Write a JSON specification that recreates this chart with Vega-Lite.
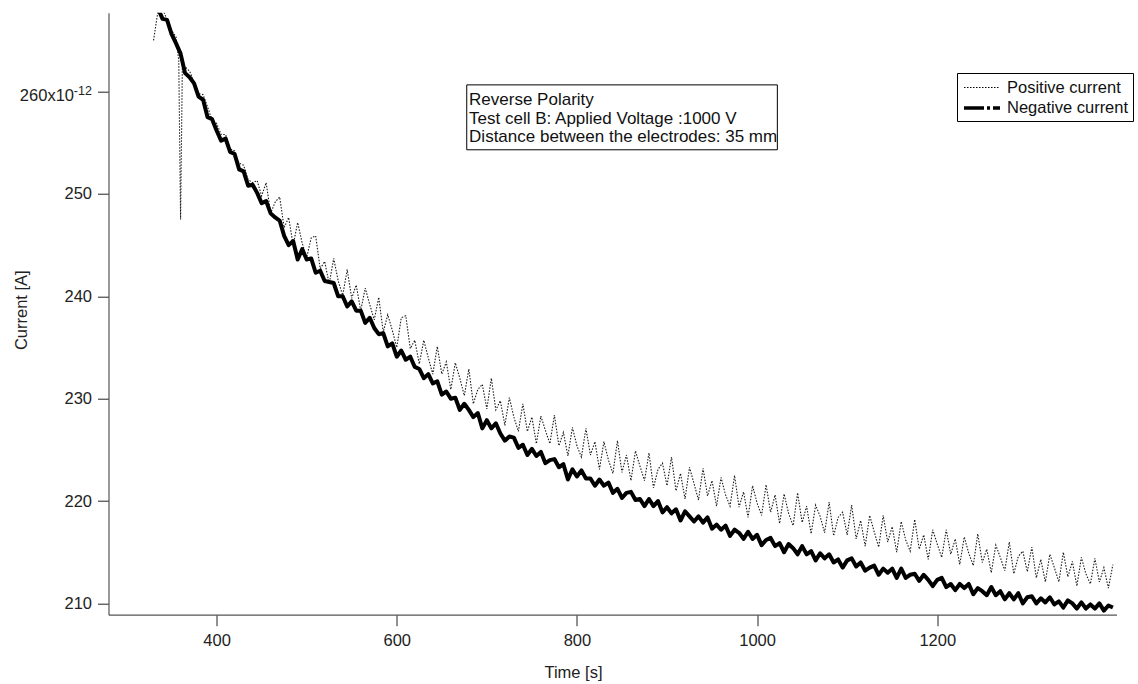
{
"$schema":"https://vega.github.io/schema/vega-lite/v6.json",
"width":1008,"height":602,
"autosize":{"type":"none"},
"padding":{"left":108.5,"top":12.7,"right":21.5,"bottom":69.3},
"background":"white",
"config":{"view":{"stroke":null},"font":"Liberation Sans"},
"datasets":{
"pos":[
{"t":330,"v":265.0},{"t":335,"v":267.9},{"t":340,"v":268.1},{"t":345,"v":267.0},{"t":350,"v":266.0},{"t":355,"v":265.3},{"t":358,"v":263.0},{"t":360,"v":247.5},{"t":362,"v":262.6},{"t":365,"v":262.4},
{"t":370,"v":262.0},{"t":375,"v":260.9},{"t":380,"v":259.8},{"t":385,"v":259.7},{"t":390,"v":258.5},{"t":395,"v":257.2},{"t":400,"v":256.9},{"t":405,"v":255.8},{"t":410,"v":255.8},{"t":415,"v":254.4},
{"t":420,"v":254.2},{"t":425,"v":253.0},{"t":430,"v":252.8},{"t":435,"v":251.4},{"t":440,"v":251.1},{"t":445,"v":251.3},{"t":450,"v":249.8},{"t":455,"v":251.1},{"t":460,"v":248.1},{"t":465,"v":249.2},
{"t":470,"v":249.7},{"t":475,"v":246.7},{"t":480,"v":247.7},{"t":485,"v":245.0},{"t":490,"v":247.2},{"t":495,"v":245.2},{"t":500,"v":243.8},{"t":505,"v":245.7},{"t":510,"v":245.9},{"t":515,"v":242.7},
{"t":520,"v":243.4},{"t":525,"v":241.2},{"t":530,"v":243.7},{"t":535,"v":241.5},{"t":540,"v":240.1},{"t":545,"v":242.6},{"t":550,"v":239.8},{"t":555,"v":241.1},{"t":560,"v":238.6},{"t":565,"v":240.8},
{"t":570,"v":239.2},{"t":575,"v":237.7},{"t":580,"v":239.9},{"t":585,"v":236.5},{"t":590,"v":238.2},{"t":595,"v":236.7},{"t":600,"v":235.0},{"t":605,"v":237.9},{"t":610,"v":238.1},{"t":615,"v":234.9},
{"t":620,"v":235.7},{"t":625,"v":233.4},{"t":630,"v":235.7},{"t":635,"v":234.0},{"t":640,"v":232.4},{"t":645,"v":235.1},{"t":650,"v":232.4},{"t":655,"v":233.6},{"t":660,"v":230.9},{"t":665,"v":233.5},
{"t":670,"v":232.0},{"t":675,"v":230.3},{"t":680,"v":232.9},{"t":685,"v":229.5},{"t":690,"v":230.9},{"t":695,"v":231.4},{"t":700,"v":229.0},{"t":705,"v":232.0},{"t":710,"v":228.9},{"t":715,"v":229.8},
{"t":720,"v":227.4},{"t":725,"v":230.1},{"t":730,"v":228.2},{"t":735,"v":226.8},{"t":740,"v":229.5},{"t":745,"v":226.8},{"t":750,"v":228.2},{"t":755,"v":225.6},{"t":760,"v":228.3},{"t":765,"v":226.9},
{"t":770,"v":225.6},{"t":775,"v":228.4},{"t":780,"v":225.4},{"t":785,"v":226.7},{"t":790,"v":224.4},{"t":795,"v":227.2},{"t":800,"v":225.4},{"t":805,"v":224.3},{"t":810,"v":227.1},{"t":815,"v":224.5},
{"t":820,"v":225.8},{"t":825,"v":223.1},{"t":830,"v":225.8},{"t":835,"v":224.0},{"t":840,"v":222.7},{"t":845,"v":225.9},{"t":850,"v":222.8},{"t":855,"v":224.5},{"t":860,"v":222.0},{"t":865,"v":224.9},
{"t":870,"v":223.4},{"t":875,"v":222.0},{"t":880,"v":224.7},{"t":885,"v":221.3},{"t":890,"v":223.1},{"t":895,"v":223.7},{"t":900,"v":221.5},{"t":905,"v":224.3},{"t":910,"v":221.0},{"t":915,"v":222.7},
{"t":920,"v":220.2},{"t":925,"v":223.3},{"t":930,"v":221.7},{"t":935,"v":220.1},{"t":940,"v":223.2},{"t":945,"v":220.5},{"t":950,"v":222.0},{"t":955,"v":219.5},{"t":960,"v":222.3},{"t":965,"v":220.6},
{"t":970,"v":219.5},{"t":975,"v":222.5},{"t":980,"v":219.4},{"t":985,"v":220.9},{"t":990,"v":218.4},{"t":995,"v":221.5},{"t":1000,"v":219.8},{"t":1005,"v":218.6},{"t":1010,"v":221.6},{"t":1015,"v":218.9},
{"t":1020,"v":220.6},{"t":1025,"v":217.8},{"t":1030,"v":220.7},{"t":1035,"v":218.8},{"t":1040,"v":217.6},{"t":1045,"v":220.8},{"t":1050,"v":217.9},{"t":1055,"v":219.5},{"t":1060,"v":216.8},{"t":1065,"v":219.6},
{"t":1070,"v":218.5},{"t":1075,"v":216.9},{"t":1080,"v":219.9},{"t":1085,"v":216.6},{"t":1090,"v":218.4},{"t":1095,"v":218.9},{"t":1100,"v":216.7},{"t":1105,"v":219.6},{"t":1110,"v":216.3},{"t":1115,"v":218.1},
{"t":1120,"v":215.6},{"t":1125,"v":218.6},{"t":1130,"v":217.0},{"t":1135,"v":215.5},{"t":1140,"v":218.6},{"t":1145,"v":216.0},{"t":1150,"v":217.5},{"t":1155,"v":215.0},{"t":1160,"v":218.0},{"t":1165,"v":216.2},
{"t":1170,"v":215.1},{"t":1175,"v":218.2},{"t":1180,"v":215.3},{"t":1185,"v":216.7},{"t":1190,"v":214.3},{"t":1195,"v":217.2},{"t":1200,"v":215.8},{"t":1205,"v":214.5},{"t":1210,"v":217.2},{"t":1215,"v":214.8},
{"t":1220,"v":216.3},{"t":1225,"v":213.8},{"t":1230,"v":216.5},{"t":1235,"v":214.9},{"t":1240,"v":213.7},{"t":1245,"v":216.8},{"t":1250,"v":214.0},{"t":1255,"v":215.3},{"t":1260,"v":213.0},{"t":1265,"v":215.7},
{"t":1270,"v":214.5},{"t":1275,"v":213.2},{"t":1280,"v":216.0},{"t":1285,"v":212.9},{"t":1290,"v":214.6},{"t":1295,"v":215.1},{"t":1300,"v":213.1},{"t":1305,"v":215.5},{"t":1310,"v":212.5},{"t":1315,"v":214.3},
{"t":1320,"v":212.1},{"t":1325,"v":214.8},{"t":1330,"v":213.5},{"t":1335,"v":212.1},{"t":1340,"v":215.0},{"t":1345,"v":212.6},{"t":1350,"v":214.1},{"t":1355,"v":211.7},{"t":1360,"v":214.5},{"t":1365,"v":212.9},
{"t":1370,"v":211.9},{"t":1375,"v":214.4},{"t":1380,"v":212.1},{"t":1385,"v":213.5},{"t":1390,"v":211.5},{"t":1395,"v":213.8}
],
"neg":[
{"t":330,"v":268.3},{"t":335,"v":268.1},{"t":340,"v":267.1},{"t":345,"v":267.0},{"t":350,"v":265.6},{"t":355,"v":264.7},{"t":360,"v":263.7},{"t":365,"v":261.8},{"t":370,"v":261.4},{"t":375,"v":260.8},
{"t":380,"v":259.5},{"t":385,"v":259.2},{"t":390,"v":257.5},{"t":395,"v":257.3},{"t":400,"v":256.2},{"t":405,"v":255.2},{"t":410,"v":255.4},{"t":415,"v":254.1},{"t":420,"v":253.9},{"t":425,"v":252.4},
{"t":430,"v":252.2},{"t":435,"v":250.8},{"t":440,"v":250.9},{"t":445,"v":250.1},{"t":450,"v":249.1},{"t":455,"v":249.3},{"t":460,"v":248.1},{"t":465,"v":247.7},{"t":470,"v":247.4},{"t":475,"v":245.9},
{"t":480,"v":245.0},{"t":485,"v":245.4},{"t":490,"v":243.6},{"t":495,"v":244.6},{"t":500,"v":243.6},{"t":505,"v":243.7},{"t":510,"v":242.3},{"t":515,"v":242.5},{"t":520,"v":241.5},{"t":525,"v":241.4},
{"t":530,"v":241.3},{"t":535,"v":240.0},{"t":540,"v":240.0},{"t":545,"v":239.0},{"t":550,"v":239.5},{"t":555,"v":238.6},{"t":560,"v":238.6},{"t":565,"v":237.4},{"t":570,"v":237.9},{"t":575,"v":236.9},
{"t":580,"v":236.3},{"t":585,"v":236.4},{"t":590,"v":235.1},{"t":595,"v":235.4},{"t":600,"v":234.1},{"t":605,"v":234.7},{"t":610,"v":233.8},{"t":615,"v":234.1},{"t":620,"v":233.1},{"t":625,"v":232.9},
{"t":630,"v":232.0},{"t":635,"v":232.4},{"t":640,"v":231.5},{"t":645,"v":231.7},{"t":650,"v":230.4},{"t":655,"v":230.7},{"t":660,"v":230.0},{"t":665,"v":230.1},{"t":670,"v":228.9},{"t":675,"v":229.5},
{"t":680,"v":228.9},{"t":685,"v":228.2},{"t":690,"v":228.6},{"t":695,"v":227.1},{"t":700,"v":227.9},{"t":705,"v":227.1},{"t":710,"v":227.6},{"t":715,"v":226.6},{"t":720,"v":225.9},{"t":725,"v":226.3},
{"t":730,"v":226.2},{"t":735,"v":225.2},{"t":740,"v":225.5},{"t":745,"v":224.5},{"t":750,"v":225.1},{"t":755,"v":224.4},{"t":760,"v":224.8},{"t":765,"v":223.7},{"t":770,"v":224.0},{"t":775,"v":224.1},
{"t":780,"v":223.3},{"t":785,"v":223.6},{"t":790,"v":222.1},{"t":795,"v":223.1},{"t":800,"v":222.4},{"t":805,"v":223.0},{"t":810,"v":222.2},{"t":815,"v":222.2},{"t":820,"v":221.5},{"t":825,"v":222.1},
{"t":830,"v":221.5},{"t":835,"v":221.8},{"t":840,"v":220.8},{"t":845,"v":221.2},{"t":850,"v":220.3},{"t":855,"v":220.8},{"t":860,"v":220.9},{"t":865,"v":220.1},{"t":870,"v":220.2},{"t":875,"v":219.5},
{"t":880,"v":220.2},{"t":885,"v":219.5},{"t":890,"v":220.0},{"t":895,"v":218.9},{"t":900,"v":219.4},{"t":905,"v":218.8},{"t":910,"v":219.2},{"t":915,"v":218.1},{"t":920,"v":219.0},{"t":925,"v":218.5},
{"t":930,"v":218.0},{"t":935,"v":218.5},{"t":940,"v":217.9},{"t":945,"v":218.4},{"t":950,"v":217.3},{"t":955,"v":217.7},{"t":960,"v":217.2},{"t":965,"v":217.6},{"t":970,"v":216.6},{"t":975,"v":217.2},
{"t":980,"v":216.9},{"t":985,"v":216.3},{"t":990,"v":217.0},{"t":995,"v":216.3},{"t":1000,"v":216.7},{"t":1005,"v":215.7},{"t":1010,"v":216.2},{"t":1015,"v":216.4},{"t":1020,"v":215.6},{"t":1025,"v":215.9},
{"t":1030,"v":215.0},{"t":1035,"v":215.8},{"t":1040,"v":215.4},{"t":1045,"v":214.8},{"t":1050,"v":215.6},{"t":1055,"v":214.8},{"t":1060,"v":215.1},{"t":1065,"v":214.2},{"t":1070,"v":214.9},{"t":1075,"v":214.4},
{"t":1080,"v":214.8},{"t":1085,"v":214.0},{"t":1090,"v":214.3},{"t":1095,"v":213.5},{"t":1100,"v":214.2},{"t":1105,"v":214.4},{"t":1110,"v":213.6},{"t":1115,"v":214.0},{"t":1120,"v":213.2},{"t":1125,"v":213.5},
{"t":1130,"v":213.7},{"t":1135,"v":212.8},{"t":1140,"v":213.4},{"t":1145,"v":213.0},{"t":1150,"v":213.4},{"t":1155,"v":212.5},{"t":1160,"v":213.4},{"t":1165,"v":212.5},{"t":1170,"v":212.8},{"t":1175,"v":212.9},
{"t":1180,"v":212.2},{"t":1185,"v":212.8},{"t":1190,"v":212.3},{"t":1195,"v":211.7},{"t":1200,"v":212.3},{"t":1205,"v":212.5},{"t":1210,"v":211.6},{"t":1215,"v":211.9},{"t":1220,"v":211.3},{"t":1225,"v":211.9},
{"t":1230,"v":211.5},{"t":1235,"v":211.9},{"t":1240,"v":210.9},{"t":1245,"v":211.5},{"t":1250,"v":211.2},{"t":1255,"v":210.8},{"t":1260,"v":211.6},{"t":1265,"v":210.8},{"t":1270,"v":211.2},{"t":1275,"v":210.4},
{"t":1280,"v":211.0},{"t":1285,"v":210.4},{"t":1290,"v":211.0},{"t":1295,"v":210.0},{"t":1300,"v":210.6},{"t":1305,"v":210.7},{"t":1310,"v":210.0},{"t":1315,"v":210.5},{"t":1320,"v":210.1},{"t":1325,"v":210.6},
{"t":1330,"v":209.9},{"t":1335,"v":210.2},{"t":1340,"v":209.6},{"t":1345,"v":210.3},{"t":1350,"v":210.0},{"t":1355,"v":209.5},{"t":1360,"v":210.1},{"t":1365,"v":209.5},{"t":1370,"v":209.9},{"t":1375,"v":209.5},
{"t":1380,"v":210.0},{"t":1385,"v":209.3},{"t":1390,"v":209.8},{"t":1395,"v":209.6}
]
},
"layer":[
{"data":{"name":"pos"},
 "mark":{"type":"line","clip":true,"strokeWidth":1.1,"strokeDash":[1.5,1.5],"color":"#1a1a1a"},
 "encoding":{
  "x":{"field":"t","type":"quantitative","title":"Time [s]","scale":{"domain":[280,1399],"nice":false,"zero":false},
   "axis":{"values":[400,600,800,1000,1200],"format":"d","grid":false,"tickSize":11,"tickColor":"#222","domainColor":"#555","domainWidth":1.2,"labelFontSize":16.5,"labelColor":"#222","labelPadding":7,"labelFlush":false,"titleFontSize":16.5,"titleFontWeight":"normal","titleColor":"#222","titleX":464.5,"titleY":58,"titleBaseline":"middle"}},
  "y":{"field":"v","type":"quantitative","title":"Current [A]","scale":{"domain":[208.9,267.7],"nice":false,"zero":false},
   "axis":{"values":[210,220,230,240,250,260],"labelExpr":"datum.value == 260 ? '260x10' : datum.label","grid":false,"tickSize":11,"tickColor":"#222","domainColor":"#555","domainWidth":1.2,"labelFontSize":16.5,"labelColor":"#222","labelPadding":{"condition":{"test":"datum.value == 260","value":24},"value":6},"labelOffset":{"condition":{"test":"datum.value == 260","value":4},"value":0},"labelFlush":false,"titleFontSize":16.5,"titleFontWeight":"normal","titleColor":"#222","titleX":-87.5,"titleY":297,"titleBaseline":"middle"}}
 }},
{"data":{"name":"neg"},
 "mark":{"type":"line","clip":true,"strokeWidth":4,"color":"black","strokeJoin":"round"},
 "encoding":{
  "x":{"field":"t","type":"quantitative","title":"Time [s]"},
  "y":{"field":"v","type":"quantitative","title":"Current [A]"}
 }},
{"data":{"values":[{"s":"Positive current"},{"s":"Negative current"}]},
 "transform":[{"filter":"false"}],
 "mark":{"type":"line","color":"black"},
 "encoding":{
  "x":{"field":"t","type":"quantitative","title":"Time [s]"},
  "y":{"field":"v","type":"quantitative","title":"Current [A]"},
  "strokeDash":{"field":"s","type":"ordinal","scale":{"domain":["Positive current","Negative current"],"range":[[1.5,1.5],[20,3,3,3]]},
   "legend":{"title":null,"orient":"none","legendX":848.5,"legendY":60.3,"strokeColor":"black","fillColor":"white","padding":4,"cornerRadius":0,"labelFontSize":16.5,"labelColor":"#111","symbolType":"M-0.9,0H2.7","symbolSize":400,"symbolStrokeColor":"black","symbolFillColor":"transparent","labelOffset":22,"rowPadding":-1.5}},
  "strokeWidth":{"field":"s","type":"ordinal","scale":{"domain":["Positive current","Negative current"],"range":[1,3.5]},
   "legend":{"title":null,"orient":"none","legendX":848.5,"legendY":60.3,"strokeColor":"black","fillColor":"white","padding":4,"cornerRadius":0,"labelFontSize":16.5,"labelColor":"#111","symbolType":"M-0.9,0H2.7","symbolSize":400,"symbolStrokeColor":"black","symbolFillColor":"transparent","labelOffset":22,"rowPadding":-1.5}}
 }},
{"data":{"values":[{}]},
 "mark":{"type":"rect","fill":"white","stroke":"black","strokeWidth":1},
 "encoding":{
  "x":{"datum":677.7,"type":"quantitative","title":"Time [s]"},
  "x2":{"datum":1022.5},
  "y":{"datum":260.65,"type":"quantitative","title":"Current [A]"},
  "y2":{"datum":254.31}
 }},
{"data":{"values":[{}]},
 "mark":{"type":"text","text":["Reverse Polarity","Test cell B: Applied Voltage :1000 V","Distance between the electrodes: 35 mm"],"align":"left","baseline":"top","fontSize":17,"lineHeight":18.5,"color":"#111","font":"Liberation Sans"},
 "encoding":{
  "x":{"datum":680.3,"type":"quantitative","title":"Time [s]"},
  "y":{"datum":259.95,"type":"quantitative","title":"Current [A]"}
 }},
{"data":{"values":[{}]},
 "mark":{"type":"text","text":"-12","align":"left","baseline":"alphabetic","fontSize":12.5,"color":"#222","font":"Liberation Sans"},
 "encoding":{
  "x":{"datum":241.5,"type":"quantitative","title":"Time [s]"},
  "y":{"datum":259.7,"type":"quantitative","title":"Current [A]"}
 }}
]
}
